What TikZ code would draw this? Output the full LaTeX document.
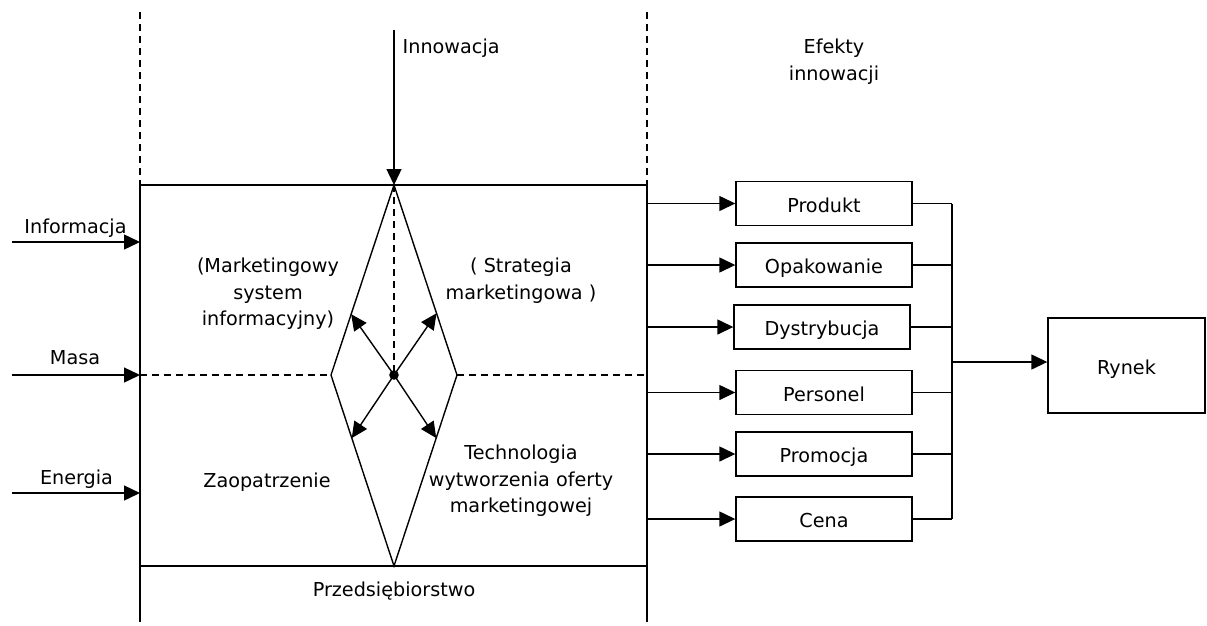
\documentclass[tikz,border=0pt]{standalone}
\usepackage{fontspec}
\setmainfont{DejaVu Sans}
\usetikzlibrary{arrows.meta,calc}
\newcommand\ff{\fontsize{19.2}{26.5}\selectfont}
\newcommand\fs{\rule{0pt}{16pt}}
\begin{document}
\begin{tikzpicture}[x=1pt,y=-1pt,line width=1.4pt,
  ar/.style={-{Triangle[length=16pt,width=15pt]}},
  dsh/.style={dash pattern=on 7pt off 5pt},
  lbl/.style={anchor=north,inner sep=0pt,align=center,font=\ff},
  ebox/.style={draw,minimum width=176pt,minimum height=44pt,inner sep=0pt,font=\ff,text height=18pt,text depth=1pt}]
\useasboundingbox (0,0) rectangle (1207,625);
% frame of the enterprise
\coordinate (TL) at (140,185); \coordinate (TR) at (647,185);
\coordinate (BL) at (140,566); \coordinate (BR) at (647,566);
\coordinate (TLd) at (140,12); \coordinate (TRd) at (647,12);
\coordinate (BLe) at (140,622); \coordinate (BRe) at (647,622);
\draw[dsh] (TLd) -- (TL);
\draw[dsh] (TRd) -- (TR);
\draw (TL) -- (TR);
\draw (BL) -- (BR);
\draw (TL) -- (BLe);
\draw (TR) -- (BRe);
% diamond
\coordinate (dT) at (394,185); \coordinate (dL) at (331,375);
\coordinate (dR) at (457,375); \coordinate (dB) at (394,566);
\coordinate (c) at (394,375);
\coordinate (mL) at (140,375); \coordinate (mR) at (647,375);
\draw (dT) -- (dL) -- (dB) -- (dR) -- cycle;
\draw[dsh] (dT) -- (c);
\draw[dsh] (mL) -- (dL);
\draw[dsh] (dR) -- (mR);
\coordinate (ul) at ($(dT)!0.68!(dL)$);
\coordinate (ur) at ($(dT)!0.675!(dR)$);
\coordinate (ll) at ($(dB)!0.67!(dL)$);
\coordinate (lr) at ($(dB)!0.67!(dR)$);
\draw[ar] (c) -- (ul);
\draw[ar] (c) -- (ur);
\draw[ar] (c) -- (ll);
\draw[ar] (c) -- (lr);
\fill (c) circle (4.8pt);
% innovation
\coordinate (inn) at (394,30);
\draw[ar] (inn) -- (dT);
\node[lbl,anchor=north west] (linn) at (402,37) {\fs Innowacja};
% inputs
\coordinate (i1) at (12,242); \coordinate (i1e) at (140,242);
\coordinate (i2) at (12,375);
\coordinate (i3) at (12,493); \coordinate (i3e) at (140,493);
\draw[ar] (i1) -- (i1e);
\draw[ar] (i2) -- (mL);
\draw[ar] (i3) -- (i3e);
\node[lbl] (linf) at (75.5,217) {\fs Informacja};
\node[lbl] (lmas) at (75,348) {\fs Masa};
\node[lbl] (lene) at (76.5,468) {\fs Energia};
% inner labels
\node[lbl] (lmsi) at (268,256) {\fs(Marketingowy\\system\\informacyjny)};
\node[lbl] (lstr) at (521,256) {\fs( Strategia\\marketingowa )};
\node[lbl] (lzao) at (267,471) {\fs Zaopatrzenie};
\node[lbl] (ltec) at (521,443) {\fs Technologia\\wytworzenia oferty\\marketingowej};
\node[lbl] (lprz) at (394,580) {\fs Przedsiębiorstwo};
\node[lbl] (lef) at (834,37) {\fs Efekty\\innowacji};
% effects
\node[ebox] (p1) at (824,203.5) {Produkt};
\node[ebox] (p2) at (824,265) {Opakowanie};
\node[ebox] (p3) at (822,327) {Dystrybucja};
\node[ebox] (p4) at (824,392.5) {Personel};
\node[ebox] (p5) at (824,454) {Promocja};
\node[ebox] (p6) at (824,519) {Cena};
\node[draw,minimum width=157pt,minimum height=95pt,inner sep=0pt,font=\ff,text height=18pt,text depth=1pt] (ryn) at (1126.5,365.5) {Rynek};
\coordinate (col) at (952,362);
\foreach \i in {1,...,6}{
  \draw[ar] (TR|-p\i) -- (p\i.west);
  \draw (p\i.east) -- (col|-p\i);
}
\draw (col|-p1) -- (col|-p6);
\draw[ar] (col) -- (ryn.west|-col);
\end{tikzpicture}
\end{document}
